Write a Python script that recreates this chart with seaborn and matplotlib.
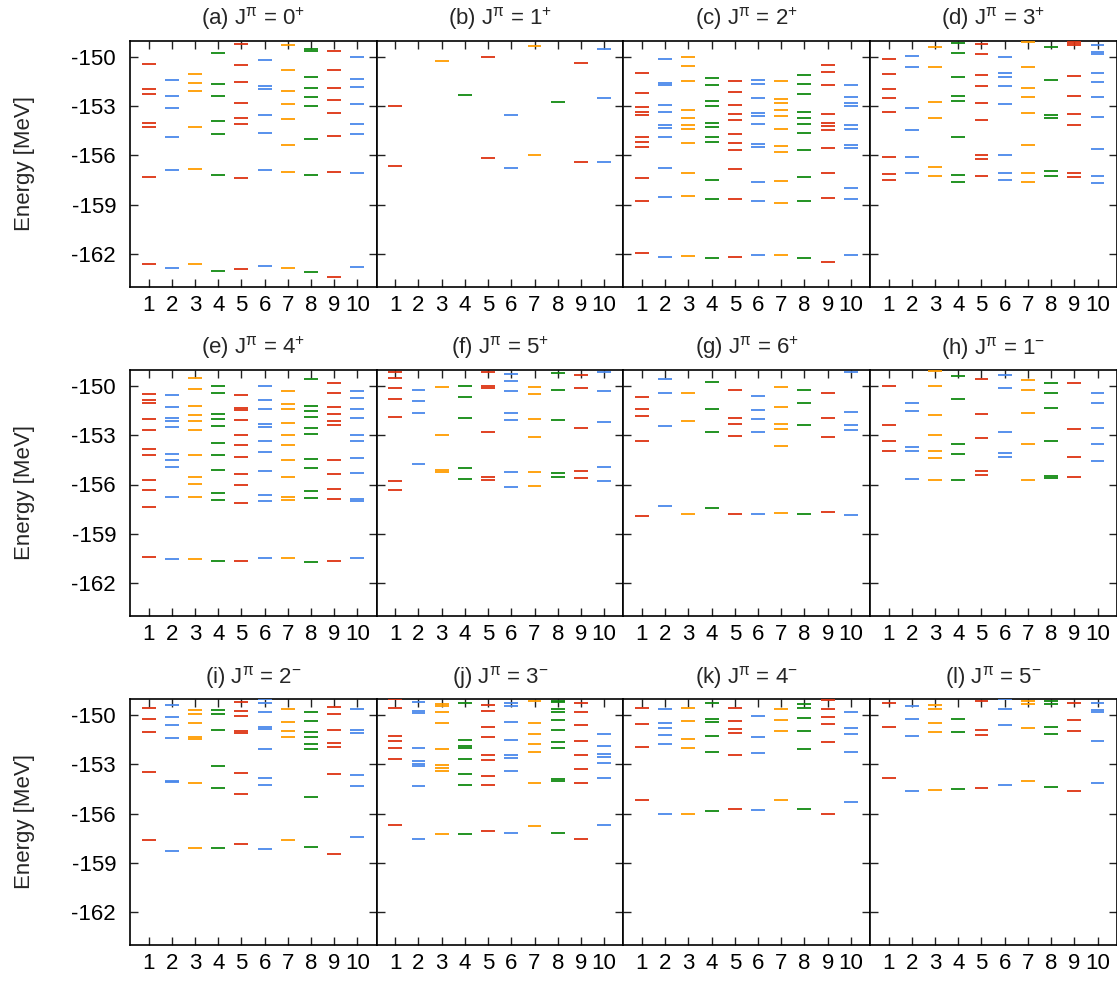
import numpy as np
import pandas as pd
import matplotlib
matplotlib.use("Agg")
import matplotlib.pyplot as plt
import seaborn as sns

# ---------------- data ----------------
titles = [r"(a) J$^{\pi}$ = 0$^{+}$", r"(b) J$^{\pi}$ = 1$^{+}$", r"(c) J$^{\pi}$ = 2$^{+}$",
          r"(d) J$^{\pi}$ = 3$^{+}$", r"(e) J$^{\pi}$ = 4$^{+}$", r"(f) J$^{\pi}$ = 5$^{+}$",
          r"(g) J$^{\pi}$ = 6$^{+}$", r"(h) J$^{\pi}$ = 1$^{-}$", r"(i) J$^{\pi}$ = 2$^{-}$",
          r"(j) J$^{\pi}$ = 3$^{-}$", r"(k) J$^{\pi}$ = 4$^{-}$", r"(l) J$^{\pi}$ = 5$^{-}$"]
samples = [1, 2, 3, 4, 5, 6, 7, 8, 9, 10]
sample_colors = ["#dd3311", "#4a88ea", "#ff9c00", "#118a11",
                 "#dd3311", "#4a88ea", "#ff9c00", "#118a11",
                 "#dd3311", "#4a88ea"]
yticks = [-150, -153, -156, -159, -162]

levels_a = [
    [-150.41, -151.95, -152.26, -154.03, -154.29, -157.32, -162.61],
    [-151.40, -152.38, -153.09, -154.86, -156.87, -162.89],
    [-151.06, -151.55, -152.09, -154.29, -156.85, -162.61],
    [-149.74, -151.63, -152.40, -153.90, -154.70, -157.20, -163.02],
    [-149.23, -150.51, -151.50, -152.77, -153.72, -154.07, -157.36, -162.93],
    [-150.18, -151.75, -151.93, -153.56, -154.62, -156.87, -162.73],
    [-149.27, -150.81, -152.07, -152.85, -153.80, -155.33, -156.98, -162.85],
    [-149.49, -149.65, -151.24, -151.87, -152.42, -152.99, -154.98, -157.18, -163.12],
    [-149.63, -150.81, -151.87, -152.64, -153.40, -154.82, -157.02, -163.38],
    [-150.02, -151.36, -151.81, -152.83, -154.07, -154.70, -157.04, -162.81],
]
levels_b = [
    [-152.97, -156.65],
    [],
    [-150.26],
    [-152.34],
    [-150.02, -156.14],
    [-153.52, -156.79],
    [-149.31, -155.96],
    [-152.75],
    [-150.39, -156.39],
    [-149.49, -152.48, -156.37],
]
levels_c = [
    [-151.00, -152.20, -153.07, -153.36, -153.52, -154.88, -155.15, -155.51, -157.40, -158.77, -161.96],
    [-150.14, -151.55, -151.73, -152.95, -153.32, -154.15, -154.35, -154.86, -156.79, -158.52, -162.18],
    [-149.98, -150.55, -151.48, -153.21, -153.70, -154.15, -154.37, -155.21, -157.08, -158.44, -162.14],
    [-151.30, -151.73, -152.66, -153.01, -154.01, -154.27, -154.86, -155.17, -157.50, -158.68, -162.24],
    [-151.44, -152.12, -152.95, -153.44, -153.82, -154.66, -155.21, -155.67, -156.81, -158.68, -162.18],
    [-151.42, -151.67, -152.48, -153.38, -153.60, -154.07, -155.27, -155.51, -157.61, -158.75, -162.06],
    [-151.44, -152.58, -152.81, -153.21, -153.60, -154.41, -155.43, -155.78, -157.57, -158.87, -162.06],
    [-151.12, -151.65, -152.24, -153.32, -153.72, -154.05, -154.64, -155.65, -157.30, -158.77, -162.24],
    [-150.47, -150.89, -151.73, -153.44, -154.03, -154.23, -154.45, -155.57, -157.04, -158.58, -162.49],
    [-151.69, -152.44, -152.79, -153.01, -154.17, -154.39, -155.39, -155.57, -157.97, -158.64, -162.08],
]
levels_d = [
    [-150.14, -151.02, -151.97, -152.52, -153.34, -156.08, -157.14, -157.48],
    [-149.92, -150.63, -153.09, -154.43, -156.08, -157.04],
    [-149.39, -150.61, -152.73, -153.70, -156.71, -157.24],
    [-149.15, -149.78, -151.20, -152.38, -152.66, -154.90, -157.20, -157.61],
    [-149.21, -149.82, -151.08, -151.77, -152.79, -153.84, -156.00, -156.22, -157.26],
    [-150.02, -151.00, -151.22, -151.77, -152.89, -155.96, -157.06, -157.48],
    [-149.06, -150.61, -151.87, -152.46, -153.38, -155.33, -157.08, -157.59],
    [-149.37, -151.38, -153.52, -153.70, -156.96, -157.26],
    [-149.04, -149.13, -149.27, -151.16, -152.40, -153.44, -154.13, -157.04, -157.32],
    [-149.25, -149.67, -149.84, -150.94, -151.53, -152.42, -153.64, -155.59, -157.22, -157.65],
]
levels_e = [
    [-150.51, -150.83, -151.06, -152.01, -152.66, -153.86, -154.18, -155.71, -156.34, -157.35, -160.42],
    [-150.55, -151.30, -151.95, -152.15, -152.48, -154.12, -154.53, -154.91, -156.74, -160.52],
    [-149.51, -150.16, -151.24, -151.75, -152.11, -152.68, -154.22, -155.52, -155.95, -156.78, -160.56],
    [-149.98, -150.43, -151.69, -152.03, -152.46, -153.45, -154.20, -155.14, -156.50, -156.92, -160.66],
    [-150.53, -151.32, -151.46, -152.07, -152.96, -153.57, -154.35, -155.34, -156.01, -157.13, -160.68],
    [-150.02, -150.85, -151.42, -152.34, -152.52, -153.33, -154.02, -155.18, -156.66, -156.98, -160.48],
    [-150.30, -151.12, -151.42, -152.25, -152.98, -153.61, -154.53, -155.54, -156.74, -156.94, -160.48],
    [-149.55, -151.24, -151.50, -151.91, -152.56, -152.92, -154.47, -154.97, -156.40, -156.82, -160.70],
    [-149.80, -150.43, -151.30, -151.73, -152.13, -152.38, -154.51, -155.34, -156.25, -156.86, -160.68],
    [-150.28, -150.73, -151.38, -151.97, -152.96, -153.35, -154.39, -155.28, -156.88, -157.01, -160.46],
]
levels_f = [
    [-149.17, -149.53, -150.12, -150.81, -151.91, -155.77, -156.34],
    [-150.22, -150.89, -151.64, -154.73],
    [-150.04, -153.01, -155.10, -155.26],
    [-150.00, -150.67, -151.95, -154.99, -155.67],
    [-149.15, -150.02, -150.10, -152.80, -155.54, -155.73],
    [-149.29, -149.68, -150.28, -151.66, -152.07, -155.24, -156.13],
    [-150.08, -150.47, -152.03, -153.09, -155.24, -156.07],
    [-149.19, -150.26, -152.05, -155.28, -155.54],
    [-149.35, -150.12, -152.58, -155.18, -155.60],
    [-149.11, -150.28, -152.19, -154.93, -155.77],
]
levels_g = [
    [-150.67, -151.38, -151.83, -153.35, -157.94],
    [-149.57, -150.45, -152.44, -157.29],
    [-150.41, -152.13, -157.78],
    [-149.74, -151.42, -152.78, -157.43],
    [-150.26, -151.93, -152.29, -153.03, -157.78],
    [-150.61, -151.44, -151.99, -152.78, -157.80],
    [-150.06, -151.26, -152.31, -152.60, -153.63, -157.74],
    [-150.24, -151.06, -152.40, -157.80],
    [-150.45, -151.93, -153.11, -157.68],
    [-149.17, -151.60, -152.38, -152.68, -157.86],
]
levels_h = [
    [-150.00, -152.38, -153.33, -153.96],
    [-151.04, -151.52, -153.74, -153.96, -155.69],
    [-149.09, -150.02, -151.77, -153.01, -153.94, -154.39, -155.73],
    [-149.39, -150.79, -153.51, -154.12, -155.73],
    [-149.59, -151.71, -153.19, -155.18, -155.44],
    [-149.35, -150.10, -152.80, -154.06, -154.32],
    [-149.63, -150.22, -151.64, -153.51, -155.73],
    [-149.80, -150.41, -151.32, -153.35, -155.50, -155.58],
    [-149.82, -152.64, -154.32, -155.52],
    [-150.45, -151.04, -152.56, -153.51, -154.57],
]
levels_i = [
    [-149.59, -150.26, -151.00, -153.44, -157.59],
    [-149.39, -150.12, -150.63, -151.40, -154.04, -154.10, -158.30],
    [-149.69, -149.94, -150.51, -151.32, -151.44, -154.15, -158.09],
    [-149.69, -149.96, -150.92, -153.11, -154.43, -158.11],
    [-149.19, -149.74, -150.04, -150.94, -151.10, -153.54, -154.82, -157.87],
    [-149.04, -149.29, -149.82, -150.73, -150.83, -152.05, -153.86, -154.27, -158.18],
    [-149.65, -150.45, -150.94, -151.32, -157.61],
    [-149.80, -150.37, -151.00, -151.32, -151.79, -152.09, -155.00, -158.05],
    [-149.49, -149.96, -150.89, -151.71, -151.93, -153.58, -158.46],
    [-149.63, -150.89, -151.08, -153.68, -154.31, -157.42],
]
levels_j = [
    [-149.02, -149.55, -151.28, -151.59, -151.99, -152.66, -156.69],
    [-149.21, -149.74, -149.86, -151.99, -152.81, -152.99, -153.11, -154.33, -157.55],
    [-149.35, -149.45, -149.80, -150.49, -152.07, -153.03, -153.23, -153.40, -157.24],
    [-149.27, -151.50, -151.87, -152.01, -152.66, -153.58, -154.25, -157.24],
    [-149.41, -149.78, -150.73, -151.34, -152.42, -152.73, -153.74, -154.27, -157.06],
    [-149.27, -149.43, -150.45, -151.50, -152.44, -152.64, -153.42, -157.18],
    [-149.15, -150.49, -151.16, -151.77, -152.24, -154.13, -156.77],
    [-149.15, -149.23, -149.65, -149.82, -150.28, -150.92, -151.65, -152.03, -153.88, -154.03, -157.18],
    [-149.25, -149.84, -150.61, -151.57, -152.42, -153.29, -154.15, -157.57],
    [-151.16, -151.89, -152.38, -152.56, -152.93, -153.84, -156.71],
]
levels_k = [
    [-149.55, -150.55, -151.97, -155.19],
    [-149.61, -150.47, -150.77, -151.24, -151.77, -156.04],
    [-149.57, -150.39, -151.46, -151.99, -156.00],
    [-149.25, -150.22, -150.43, -151.28, -152.26, -155.86],
    [-149.59, -150.35, -150.85, -151.08, -152.44, -155.74],
    [-150.08, -151.36, -152.32, -155.76],
    [-149.65, -150.31, -150.96, -155.17],
    [-149.35, -149.59, -150.16, -150.98, -152.09, -155.71],
    [-149.08, -149.61, -150.10, -150.53, -151.61, -156.06],
    [-149.84, -150.81, -151.16, -152.26, -155.31],
]
levels_l = [
    [-149.27, -150.73, -153.84],
    [-149.47, -150.24, -151.28, -154.64],
    [-149.39, -149.61, -150.47, -151.00, -154.58],
    [-150.22, -151.06, -154.49],
    [-149.15, -150.92, -151.20, -154.43],
    [-149.02, -149.63, -150.61, -154.27],
    [-149.17, -149.33, -150.79, -154.03],
    [-149.15, -149.31, -150.73, -151.16, -154.37],
    [-149.25, -150.31, -150.96, -154.60],
    [-149.29, -149.69, -149.80, -151.57, -154.11],
]
all_levels = [levels_a, levels_b, levels_c, levels_d, levels_e, levels_f,
              levels_g, levels_h, levels_i, levels_j, levels_k, levels_l]

# long-form table built from the arrays above
rows = []
for p, lev in enumerate(all_levels):
    for s, vals in zip(samples, lev):
        for v in vals:
            rows.append({"panel": p, "sample": s, "energy": v})
df = pd.DataFrame(rows)

# ---------------- style ----------------
sns.set_theme(style="ticks")
plt.rcParams["font.family"] = ["Liberation Sans", "DejaVu Sans"]
plt.rcParams["axes.unicode_minus"] = False
plt.rcParams["mathtext.fontset"] = "custom"
plt.rcParams["mathtext.rm"] = "Liberation Sans"
plt.rcParams["mathtext.it"] = "Liberation Sans:italic"
plt.rcParams["mathtext.default"] = "regular"

W, H = 1117, 990
fig = plt.figure(figsize=(W / 100, H / 100), dpi=100)

left0 = 130.0
pw = 246.7
ph = 246.0
tops = [40.7, 369.7, 698.7]
palette = dict(zip(samples, sample_colors))
fs = 16

for p in range(12):
    r, c = divmod(p, 4)
    x0 = left0 + c * pw
    ax = fig.add_axes([x0 / W, 1 - (tops[r] + ph) / H, pw / W, ph / H])
    sub = df[df["panel"] == p]
    sns.scatterplot(data=sub, x="sample", y="energy", hue="sample", palette=palette,
                    marker="_", s=100, linewidth=1.3, legend=False, ax=ax, zorder=3)
    ax.set_xlim(0.2, 10.83)
    ax.set_ylim(-164, -149)
    ax.set_xticks(samples)
    ax.set_xticklabels([str(s) for s in samples], fontsize=fs)
    ax.set_yticks(yticks)
    if c == 0:
        ax.set_yticklabels([str(t) for t in yticks], fontsize=fs)
        ax.set_ylabel("Energy [MeV]", fontsize=fs)
        ax.yaxis.set_label_coords(-0.385, 0.5)
    else:
        ax.set_yticklabels([])
        ax.set_ylabel("")
    ax.set_xlabel("")
    ax.tick_params(axis="both", direction="in", top=True, right=True,
                   length=5.5, width=1.0, colors="#222222", labelcolor="black")
    ax.tick_params(axis="x", pad=6)
    ax.tick_params(axis="y", pad=10)
    for sp in ax.spines.values():
        sp.set_linewidth(1.2)
        sp.set_color("black")
    ax.set_title(titles[p], fontsize=fs, pad=11)

fig.savefig("out.png", dpi=100)
